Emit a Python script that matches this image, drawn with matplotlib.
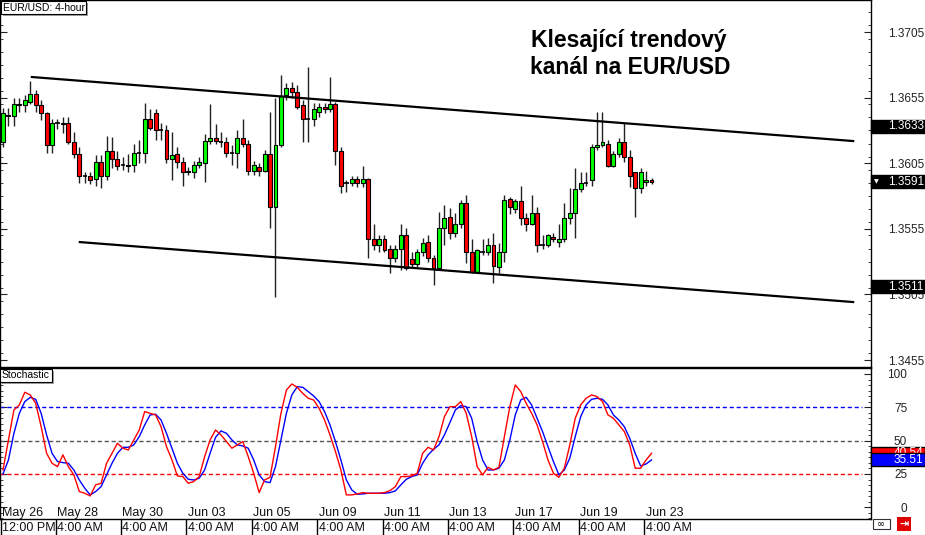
import numpy as np
import matplotlib.pyplot as plt
from matplotlib.patches import Rectangle
from matplotlib.transforms import blended_transform_factory
from matplotlib.ticker import MultipleLocator

plt.rcParams['font.family'] = ['Liberation Sans', 'DejaVu Sans']

# EUR/USD 4-hour candles (May 26 12:00 PM .. Jun 23 8:00 AM)
opens = [1.3621, 1.3642, 1.3641, 1.3649, 1.3649, 1.3652, 1.3658, 1.3649, 1.3643, 1.3619,
         1.3636, 1.3635, 1.3636, 1.3621, 1.3612, 1.3595, 1.3595, 1.3593, 1.3606, 1.3595,
         1.3614, 1.3608, 1.3604, 1.3604, 1.3604, 1.3613, 1.3613, 1.3639, 1.3643, 1.3630,
         1.3630, 1.3608, 1.3612, 1.3606, 1.3599, 1.3598, 1.3604, 1.3605, 1.3622, 1.3624,
         1.3621, 1.3621, 1.3613, 1.3613, 1.3624, 1.3620, 1.3599, 1.3602, 1.3599, 1.3612,
         1.3572, 1.3619, 1.3657, 1.3662, 1.3659, 1.3649, 1.3639, 1.3639, 1.3644, 1.3648,
         1.3646, 1.3650, 1.3614, 1.3590, 1.3590, 1.3593, 1.3590, 1.3593, 1.3547, 1.3543,
         1.3547, 1.3540, 1.3533, 1.3540, 1.3550, 1.3532, 1.3528, 1.3537, 1.3545, 1.3533,
         1.3525, 1.3556, 1.3564, 1.3552, 1.3559, 1.3575, 1.3537, 1.3522, 1.3537, 1.3537,
         1.3543, 1.3526, 1.3537, 1.3578, 1.3570, 1.3576, 1.3563, 1.3559, 1.3567, 1.3543,
         1.3543, 1.3549, 1.3545, 1.3547, 1.3563, 1.3567, 1.3585, 1.3590, 1.3592, 1.3617,
         1.3619, 1.3620, 1.3603, 1.3612, 1.3621, 1.3610, 1.3598, 1.3586, 1.3591, 1.3592]
highs = [1.3647, 1.3647, 1.3655, 1.3655, 1.3657, 1.3668, 1.3661, 1.3653, 1.3644, 1.3639,
         1.3639, 1.3640, 1.3640, 1.3629, 1.3617, 1.3598, 1.3598, 1.3611, 1.3611, 1.3626,
         1.3625, 1.3614, 1.3610, 1.3612, 1.3620, 1.3623, 1.3651, 1.3646, 1.3646, 1.3636,
         1.3634, 1.3629, 1.3617, 1.3610, 1.3602, 1.3607, 1.3610, 1.3627, 1.3650, 1.3635,
         1.3629, 1.3625, 1.3619, 1.3630, 1.3639, 1.3623, 1.3607, 1.3605, 1.3615, 1.3644,
         1.3655, 1.3672, 1.3666, 1.3667, 1.3665, 1.3653, 1.3678, 1.3651, 1.3651, 1.3651,
         1.3671, 1.3652, 1.3617, 1.3592, 1.3595, 1.3595, 1.3603, 1.3594, 1.3559, 1.3550,
         1.3550, 1.3543, 1.3543, 1.3559, 1.3556, 1.3537, 1.3540, 1.3548, 1.3550, 1.3535,
         1.3568, 1.3573, 1.3571, 1.3567, 1.3577, 1.3581, 1.3547, 1.3540, 1.3547, 1.3548,
         1.3552, 1.3544, 1.3581, 1.3579, 1.3578, 1.3588, 1.3567, 1.3581, 1.3572, 1.3550,
         1.3551, 1.3552, 1.3559, 1.3575, 1.3586, 1.3601, 1.3598, 1.3598, 1.3620, 1.3644,
         1.3644, 1.3623, 1.3614, 1.3624, 1.3636, 1.3615, 1.3598, 1.3601, 1.3599, 1.3594]
lows = [1.3617, 1.3633, 1.3633, 1.3644, 1.3644, 1.3650, 1.3644, 1.3638, 1.3613, 1.3613,
        1.3631, 1.3628, 1.3620, 1.3609, 1.3590, 1.3590, 1.3589, 1.3588, 1.3586, 1.3592,
        1.3601, 1.3600, 1.3600, 1.3598, 1.3598, 1.3605, 1.3605, 1.3630, 1.3623, 1.3623,
        1.3605, 1.3592, 1.3601, 1.3588, 1.3596, 1.3594, 1.3601, 1.3591, 1.3620, 1.3620,
        1.3617, 1.3610, 1.3604, 1.3601, 1.3617, 1.3596, 1.3596, 1.3595, 1.3598, 1.3556,
        1.3503, 1.3617, 1.3653, 1.3655, 1.3646, 1.3621, 1.3621, 1.3633, 1.3640, 1.3643,
        1.3644, 1.3604, 1.3582, 1.3583, 1.3588, 1.3587, 1.3587, 1.3533, 1.3539, 1.3537,
        1.3537, 1.3521, 1.3530, 1.3524, 1.3524, 1.3526, 1.3526, 1.3534, 1.3530, 1.3512,
        1.3524, 1.3543, 1.3547, 1.3549, 1.3556, 1.3529, 1.3521, 1.3521, 1.3535, 1.3535,
        1.3514, 1.3521, 1.3530, 1.3566, 1.3567, 1.3558, 1.3553, 1.3558, 1.3537, 1.3540,
        1.3541, 1.3545, 1.3541, 1.3545, 1.3559, 1.3548, 1.3583, 1.3588, 1.3588, 1.3615,
        1.3617, 1.3602, 1.3602, 1.3610, 1.3606, 1.3587, 1.3564, 1.3582, 1.3588, 1.3589]
closes = [1.3643, 1.3641, 1.3650, 1.3650, 1.3653, 1.3658, 1.3649, 1.3643, 1.3619, 1.3636,
          1.3636, 1.3636, 1.3621, 1.3612, 1.3595, 1.3595, 1.3592, 1.3606, 1.3595, 1.3614,
          1.3608, 1.3603, 1.3604, 1.3603, 1.3613, 1.3613, 1.3639, 1.3632, 1.3630, 1.3630,
          1.3608, 1.3611, 1.3606, 1.3598, 1.3598, 1.3604, 1.3606, 1.3622, 1.3624, 1.3622,
          1.3621, 1.3613, 1.3613, 1.3624, 1.3620, 1.3599, 1.3604, 1.3599, 1.3612, 1.3572,
          1.3619, 1.3656, 1.3662, 1.3659, 1.3648, 1.3639, 1.3639, 1.3646, 1.3648, 1.3646,
          1.3650, 1.3614, 1.3588, 1.3590, 1.3593, 1.3590, 1.3593, 1.3547, 1.3543, 1.3547,
          1.3539, 1.3533, 1.3540, 1.3550, 1.3525, 1.3528, 1.3537, 1.3544, 1.3533, 1.3525,
          1.3556, 1.3563, 1.3552, 1.3559, 1.3575, 1.3537, 1.3522, 1.3539, 1.3537, 1.3543,
          1.3527, 1.3537, 1.3577, 1.3572, 1.3576, 1.3563, 1.3559, 1.3567, 1.3543, 1.3543,
          1.3550, 1.3547, 1.3547, 1.3563, 1.3567, 1.3585, 1.3590, 1.3590, 1.3617, 1.3619,
          1.3621, 1.3603, 1.3612, 1.3621, 1.3610, 1.3595, 1.3586, 1.3598, 1.3592, 1.3591]

# stochastic %K (red) and %D (blue)
stoch_k = [28, 50.5, 73, 76.8, 86.3, 84.3, 78, 60.5, 40.5, 33,
           30.5, 39.3, 30.5, 24.3, 11.8, 10.5, 8.5, 16.8, 18, 33,
           40.5, 48, 44.3, 43, 50.5, 58, 71.8, 70.5, 69.3, 60.5,
           45.5, 35.5, 23.5, 23, 18, 19.3, 23, 38, 50.5, 58,
           54.3, 49.3, 44.3, 46.8, 49.3, 38, 25.5, 11, 20.5, 22.5,
           45.5, 70.5, 88, 92.5, 90, 85.5, 81.8, 80.5, 74.3, 65.5,
           54.3, 41.8, 28, 9.3, 9.3, 10, 11, 10.5, 10.5, 10.5,
           11, 12.5, 15.5, 23, 23, 23.5, 25.5, 40.5, 45, 43,
           53, 68, 75.5, 75.5, 79.3, 70.5, 53, 30.5, 24.3, 30,
           28, 30, 53, 75.5, 91.8, 86.8, 78, 70.5, 61.8, 49.3,
           35.5, 25.5, 22.5, 29.3, 46.8, 66.8, 76.8, 81.8, 84.3, 83,
           79.3, 69.3, 66.8, 61.8, 56.8, 46.8, 29.3, 29.3, 35.5, 40.54]
stoch_d = [25, 35.5, 55.5, 70.5, 79.3, 82.5, 81, 70.5, 54.3, 40.5,
           34.3, 33.5, 33, 28, 20.5, 14.3, 9.3, 11.8, 15.5, 24.3,
           33, 40.5, 45, 45, 46.8, 53, 61.8, 69.3, 69.8, 65.5,
           55.5, 44.3, 33, 25.5, 21, 20.5, 21.8, 28, 40.5, 52.5,
           57.3, 55.5, 50.5, 46.8, 46, 44.3, 35.5, 24.3, 19.3, 18.5,
           30.5, 50.5, 70.5, 84.3, 90.5, 90, 86.8, 83.5, 79.3, 71.8,
           61.8, 49.3, 35.5, 20.5, 13, 9.8, 10, 10.5, 10.5, 10.5,
           10.5, 11, 12.3, 16.8, 21, 23, 24.3, 33, 39.3, 43.5,
           46.8, 54.3, 63.5, 73, 76.3, 75.5, 66.8, 49.3, 35.5, 28,
           28, 29.3, 35.5, 50.5, 69.3, 80.5, 82.5, 76.8, 66.8, 56.8,
           45.5, 34.3, 24.3, 28, 36.8, 53, 68, 76.8, 81, 81.8,
           81, 76.8, 69.3, 65.5, 60.5, 51.8, 40.5, 31, 32.5, 35.51]

# trend channel (bar index, price)
upper_x = [5.3, 156.0]
upper_y = [1.36707, 1.36219]
lower_x = [14.1, 156.0]
lower_y = [1.35449, 1.34992]

label_bars = [0, 10, 22, 34, 46, 58, 70, 82, 94, 106, 118]
date_labels = ['May 26', 'May 28', 'May 30', 'Jun 03', 'Jun 05', 'Jun 09',
               'Jun 11', 'Jun 13', 'Jun 17', 'Jun 19', 'Jun 23']
time_labels = ['12:00 PM'] + ['4:00 AM'] * 10

price_marks = [1.3633, 1.3591, 1.3511]
stoch_marks = [40.54, 35.51]

W, H = 925, 535
fig = plt.figure(figsize=(W / 100, H / 100), dpi=100)

def fx(px):
    return px / W

def fy(py):
    return 1 - py / H

ax = fig.add_axes([0, fy(367), fx(871), 367 / H])
ax2 = fig.add_axes([0, fy(519), fx(871), (519 - 368) / H])

x = np.arange(len(opens))
o = np.array(opens)
c = np.array(closes)
up = c > o
dn = c < o
flat = c == o

# candles
ax.vlines(x, lows, highs, color='#222222', lw=1, zorder=2)
ax.bar(x[up], (c - o)[up], bottom=o[up], width=0.72, color='#00ff00',
       edgecolor='black', lw=0.8, zorder=3)
ax.bar(x[dn], (o - c)[dn], bottom=c[dn], width=0.72, color='#ff0000',
       edgecolor='black', lw=0.8, zorder=3)
ax.hlines(o[flat], x[flat] - 0.4, x[flat] + 0.4, color='black', lw=1.2, zorder=3)

ax.plot(upper_x, upper_y, color='black', lw=1.6, zorder=4)
ax.plot(lower_x, lower_y, color='black', lw=1.6, zorder=4)

xmin, xmax = -0.55, 159.27
ax.set_xlim(xmin, xmax)
ax.set_ylim(1.34497, 1.37294)
ax.set_xticks([])
ax.set_yticks(np.arange(1.3455, 1.3706, 0.005))
ax.yaxis.set_minor_locator(MultipleLocator(0.001))
ax.yaxis.set_major_formatter(plt.FuncFormatter(lambda v, p: f'{v:.4f}'))
ax.tick_params(axis='y', which='both', direction='in', left=True, right=True,
               labelleft=False, labelright=True, colors='#222222', labelsize=8.5,
               pad=12)
ax.tick_params(axis='y', which='major', length=5)
ax.tick_params(axis='y', which='minor', length=2.5)
for s in ax.spines.values():
    s.set_linewidth(1)

fig.text(fx(531), fy(40), 'Klesající trendový', fontsize=16.5, fontweight='bold',
         va='center', ha='left')
fig.text(fx(530), fy(68), 'kanál na EUR/USD', fontsize=16.5, fontweight='bold',
         va='center', ha='left')

# stochastic panel
ax2.plot(x, stoch_d, color='#0000ff', lw=1, zorder=3)
ax2.plot(x, stoch_k, color='#ff0000', lw=1, zorder=4)
xend = (862 - 3) / 5.45
ax2.hlines(75, xmin, xend, color='#0000ff', lw=1, linestyles=(0, (3, 2)))
ax2.hlines(50, xmin, xend, color='#555555', lw=1, linestyles=(0, (3, 2)))
ax2.hlines(25, xmin, xend, color='#ff0000', lw=1, linestyles=(0, (3, 2)))
ax2.set_xlim(xmin, xmax)
ax2.set_ylim(-8.8, 104.5)
ax2.set_xticks([])
ax2.set_yticks([0, 25, 50, 75, 100])
ax2.yaxis.set_minor_locator(MultipleLocator(25 / 6))
ax2.tick_params(axis='y', which='both', direction='in', left=True, right=True,
                labelleft=False, labelright=True, colors='#222222', labelsize=8.5,
                pad=26)
ax2.tick_params(axis='y', which='major', length=5)
ax2.tick_params(axis='y', which='minor', length=2.5)
for lab in ax2.get_yticklabels():
    lab.set_horizontalalignment('right')
for s in ax2.spines.values():
    s.set_linewidth(1)

# value boxes on the right axis
bt = blended_transform_factory(ax.transAxes, ax.transData)
bw = 54 / 871
bh = 13 * (1.37294 - 1.34497) / 367
for i, v in enumerate(price_marks):
    ax.add_patch(Rectangle((1.0, v - bh / 2), bw, bh, transform=bt, facecolor='black',
                           edgecolor='black', clip_on=False, zorder=10))
    ax.text(1.0 + 17 / 871, v, f'{v:.4f}', transform=bt, color='white', fontsize=8.5,
            va='center', ha='left', clip_on=False, zorder=11)
    if i == 1:
        ax.text(1.0 + 3 / 871, v, '▼', transform=bt, color='white', fontsize=4.5,
                va='center', ha='left', clip_on=False, zorder=11,
                family=['DejaVu Sans'])

bt2 = blended_transform_factory(ax2.transAxes, ax2.transData)
sh = 13 * (104.5 + 8.8) / 151
for k, (v, col) in enumerate(zip(stoch_marks, ['#ff0000', '#0000ff'])):
    ax2.add_patch(Rectangle((1.0, v - sh / 2), bw, sh, transform=bt2, facecolor=col,
                            edgecolor='black', lw=1, clip_on=False, zorder=10 + 2 * k))
    ax2.text(1.0 + 23 / 871, v, f'{v:.2f}', transform=bt2, color='white', fontsize=8.5,
             va='center', ha='left', clip_on=False, zorder=11 + 2 * k)

# date axis
bt3 = blended_transform_factory(ax2.transData, fig.transFigure)
for b, d, t in zip(label_bars, date_labels, time_labels):
    ax2.text(b - 0.1, fy(513), d, transform=bt3, fontsize=9, va='center', ha='left',
             clip_on=False, color='#111111')
    ax2.text(b - 0.1, fy(528), t, transform=bt3, fontsize=9, va='center', ha='left',
             clip_on=False, color='#111111')
    ax2.plot([b - 0.35, b - 0.35], [fy(520), 0], transform=bt3, color='black', lw=1,
             clip_on=False)

def px_rect(x0, y0, x1, y1, **kw):
    return Rectangle((fx(x0), fy(y1)), fx(x1) - fx(x0), (y1 - y0) / H,
                     transform=fig.transFigure, **kw)

# panel caption boxes
fig.patches.append(px_rect(3, 3, 88, 16, facecolor='#a0a0a0', edgecolor='none'))
fig.patches.append(px_rect(1, 1, 86, 14, facecolor='white', edgecolor='black', lw=0.8))
fig.text(fx(3), fy(8), 'EUR/USD: 4-hour', fontsize=7.5, va='center', ha='left')
fig.patches.append(px_rect(2, 371, 54, 384, facecolor='#a0a0a0', edgecolor='none'))
fig.patches.append(px_rect(0, 369, 52, 382, facecolor='white', edgecolor='black', lw=0.8))
fig.text(fx(2), fy(375.5), 'Stochastic', fontsize=7.5, va='center', ha='left')

# small toolbar icons
fig.patches.append(px_rect(873, 519, 890, 529, facecolor='white', edgecolor='#333333', lw=0.8))
fig.text(fx(881.5), fy(524), '∞', fontsize=7, va='center', ha='center',
         family=['DejaVu Sans'])
fig.patches.append(px_rect(897, 517, 911, 531, facecolor='#e00000', edgecolor='none'))
fig.text(fx(904), fy(524), '⇥', fontsize=8, va='center', ha='center', color='white',
         family=['DejaVu Sans'], fontweight='bold')

fig.savefig('out.png', dpi=100)
